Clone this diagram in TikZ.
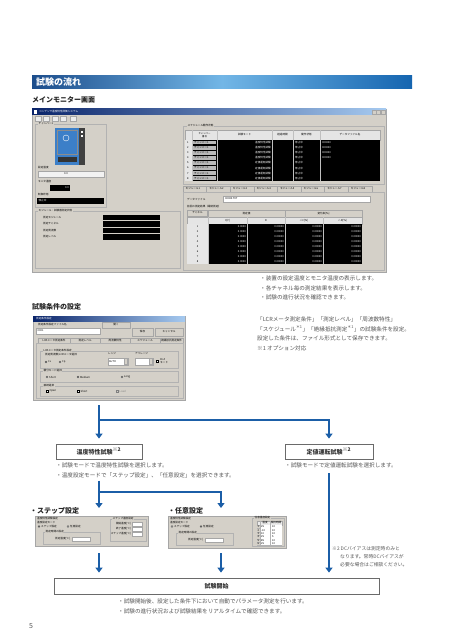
\documentclass[tikz,border=0pt]{standalone}
\usepackage{fontspec}
\newfontfamily\jp{Noto Sans CJK JP}
\usetikzlibrary{arrows.meta, positioning}
\definecolor{flowblue}{HTML}{1B5EA7}
\definecolor{txtgray}{HTML}{555555}
\definecolor{boxgray}{HTML}{6A6A6A}
\definecolor{wingray}{HTML}{D4D0C8}
\definecolor{titledark}{HTML}{0A246A}
\definecolor{titlelight}{HTML}{A6CAF0}
\definecolor{bardark}{HTML}{1C4D8C}
\definecolor{barmid}{HTML}{72B6E6}
\definecolor{barright}{HTML}{1565B0}
\definecolor{chblue}{HTML}{3C7FC8}
\definecolor{celllight}{HTML}{E6E6E6}

\begin{document}
\begin{tikzpicture}[x=1pt, y=-1pt,
    body/.style={font=\jp\fontsize{5.6}{9.6}\selectfont, text=txtgray,
                 anchor=north west, align=left, inner sep=0pt},
    head/.style={font=\jp\bfseries\fontsize{7}{8}\selectfont, text=black!85,
                 anchor=west, inner sep=0pt},
    testbox/.style={draw=boxgray, line width=0.8pt, fill=white, inner sep=0pt,
                    minimum height=15pt, text=black!80,
                    font=\jp\bfseries\fontsize{6}{7}\selectfont},
    arr/.style={-{Triangle[width=7pt, length=5pt]}, line width=2pt, flowblue},
    win/.style={fill=wingray, draw=gray!70, line width=0.4pt, inner sep=0pt,
                anchor=north west},
    tiny/.style={font=\jp\fontsize{2.6}{3}\selectfont, inner sep=0pt, anchor=west},
    grp/.style={tiny, fill=wingray, inner xsep=0.5pt},
    wline/.style={draw=gray!60, line width=0.3pt},
    btn/.style={fill=wingray, draw=gray!70, line width=0.3pt},
    btnnode/.style={tiny, btn, anchor=center},
    blk/.style={fill=black},
]
  \useasboundingbox (0,0) rectangle (455,644);
  \fill[white] (0,0) rectangle (455,644);

  % title bar of the page
  \shade[left color=bardark, right color=barright, middle color=barmid]
    (32,76) rectangle (412,89);
  \node[font=\jp\bfseries\fontsize{9}{10}\selectfont, text=white,
        anchor=west, inner sep=0pt] (pagetitle) at (36,82.5) {試験の流れ};

  \node[head] (mainhead) at (32,99.5) {メインモニター画面};

  % ---- main monitor window
  \node[win, minimum width=354pt, minimum height=163pt] (mainwin) at (32,109) {};
  \shade[left color=titledark, right color=titlelight] (32,109) rectangle (386,115);
  \fill[white] (33.5,110) rectangle (37,114);
  \node[tiny, text=white] (maintitle) at (39,112) {コンデンサ温度特性評価システム};
  \foreach \bx in {372,376.5,381}
    \draw[btn] (\bx,110.2) rectangle +(4,4);
  \foreach \tx in {35,43,52,60,70}
    \draw[btn, fill=gray!15] (\tx,116.5) rectangle +(6,5);

  % chamber group
  \draw[wline] (35,124) rectangle (106,207);
  \node[grp] (chlabel) at (38,124) {チャンバー1};
  \fill[chblue] (55,128) rectangle (79,165);
  \fill[black!75] (79,128) rectangle (85,165);
  \draw[black!45, line width=0.3pt] (57,130) rectangle (77,154);
  \draw[white, line width=0.4pt] (66,138) circle (3pt);
  \fill[black!80] (58,157) rectangle (77,162);
  \fill[white] (81,131) rectangle (83,133);
  \fill[white] (81,135) rectangle (83,137);
  \node[tiny] (lbset) at (38,168) {設定温度};
  \draw[btn, fill=gray!10] (38,171) rectangle (104,177);
  \node[tiny] (vset) at (64,174) {0.0};
  \node[tiny] (lbmon) at (38,182) {モニタ温度};
  \fill[blk] (50,185) rectangle (70,191);
  \node[tiny, text=white, anchor=east] (vmon) at (69,188) {0.0};
  \node[tiny] (lbctl) at (38,195) {制御状態};
  \fill[blk] (37,198) rectangle (104,204);
  \node[tiny, text=white] (vctl) at (38.5,201) {停止中};

  % module / meter group
  \draw[wline] (35,211) rectangle (180,268);
  \node[grp] (modlabel) at (38,211) {モジュール・試験器測定状態};
  \foreach \yy/\tl [count=\k] in {217.5/測定モジュール, 224/測定チャネル,
                                  230.5/測定周波数, 237/測定レベル} {
    \node[tiny] (mod\k) at (43,\yy) {\tl};
    \fill[blk] (103,\yy-2.7) rectangle (160,\yy+2.7);
  }

  % schedule group
  \draw[wline] (183,126) rectangle (384,184);
  \node[grp] (schlabel) at (187,126) {スケジュール動作状態};
  \draw[btn, fill=gray!20] (185,130) rectangle (380,140);
  \node[tiny, anchor=center, align=center, font=\jp\fontsize{2.4}{2.8}\selectfont]
    (hch) at (204.5,135) {チャンバー\\番号};
  \node[tiny, anchor=center] (hmode) at (244.5,135) {試験モード};
  \node[tiny, anchor=center] (htime) at (282.5,135) {経過時間};
  \node[tiny, anchor=center] (hstat) at (306.5,135) {動作状態};
  \node[tiny, anchor=center] (hfile) at (350,135) {データファイル名};
  \foreach \i in {1,...,8} {
    \pgfmathsetmacro\ya{140+5.1*(\i-1)}
    \pgfmathsetmacro\yb{\ya+5.1}
    \pgfmathsetmacro\ym{\ya+2.55}
    \fill[celllight] (185,\ya) rectangle (192,\yb);
    \fill[blk] (192,\ya) rectangle (380,\yb);
    \fill[gray!55] (193,\ya+0.6) rectangle (216,\yb-0.6);
    \node[tiny] (rn\i) at (187,\ym) {\i};
    \node[tiny] (rc\i) at (194,\ym) {チャンバー1};
    \node[tiny, text=white] (rs\i) at (295,\ym) {停止中};
  }
  \foreach \i in {1,...,4} {
    \pgfmathsetmacro\ym{142.55+5.1*(\i-1)}
    \node[tiny, text=white, anchor=east] (rm\i) at (271,\ym) {温度特性試験};
    \node[tiny, text=white] (rf\i) at (322,\ym) {000000};
  }
  \foreach \i in {5,...,8} {
    \pgfmathsetmacro\ym{142.55+5.1*(\i-1)}
    \node[tiny, text=white, anchor=east] (rm\i) at (271,\ym) {定値運転試験};
  }
  \foreach \cx in {192,217,272,293,320}
    \draw[gray!50, line width=0.2pt] (\cx,130) -- (\cx,180.8);

  % module tabs
  \foreach \i in {1,...,8} {
    \pgfmathsetmacro\tx{183+23.6*(\i-1)}
    \draw[btn] (\tx,186) rectangle +(23.6,6);
    \node[tiny] (tab\i) at (\tx+2.5,189) {モジュール\i};
  }
  \draw[wline] (183,192) rectangle (384,270);
  \node[tiny] (dflabel) at (187,199) {データファイル};
  \draw[btn, fill=white] (223,196) rectangle (370,202);
  \node[tiny] (dfname) at (225,199) {00000.TXT};
  \node[tiny] (lastlabel) at (187,207) {前回の測定結果（最終測定）};
  \node[btnnode, minimum width=20pt, minimum height=6pt] (chtab) at (197.5,213) {チャネル};
  \node[btnnode, minimum width=77pt, minimum height=7pt] (hval) at (246.5,213.5) {測定値};
  \node[btnnode, minimum width=77pt, minimum height=7pt] (hrate) at (323.5,213.5) {変化率[\%]};
  \draw[btn, fill=gray!20] (187,217) rectangle (362,224);
  \foreach \cx/\tl [count=\k] in {227.5/C[F], 266/D, 304/△C[\%], 342.5/△D[\%]}
    \node[tiny, anchor=center] (hc\k) at (\cx,220.5) {\tl};
  \foreach \i in {1,...,8} {
    \pgfmathsetmacro\ya{224+5*(\i-1)}
    \pgfmathsetmacro\ym{\ya+2.5}
    \fill[celllight] (187,\ya) rectangle (208,\ya+5);
    \fill[blk] (208,\ya) rectangle (362,\ya+5);
    \node[tiny, anchor=center] (cn\i) at (197.5,\ym) {\i};
    \node[tiny, text=white, anchor=east] (cv\i) at (246,\ym) {0.0000};
    \node[tiny, text=white, anchor=east] (cd\i) at (284,\ym) {0.00000};
    \node[tiny, text=white, anchor=east] (cr\i) at (322,\ym) {0.00000};
    \node[tiny, text=white, anchor=east] (cs\i) at (361,\ym) {0.00000};
  }
  \foreach \cx in {208,247,285,323}
    \draw[gray!50, line width=0.2pt] (\cx,217) -- (\cx,264);

  \node[body] (mainnote) at (260,275.5)
    {・装置の設定温度とモニタ温度の表示します。\\
     ・各チャネル毎の測定結果を表示します。\\
     ・試験の進行状況を確認できます。};

  \node[head] (sethead) at (32,307) {試験条件の設定};

  % ---- condition setting window
  \node[win, minimum width=152pt, minimum height=84pt] (setwin) at (33,316) {};
  \shade[left color=titledark, right color=titlelight] (33,316) rectangle (185,321);
  \node[tiny, text=white] (settitle) at (36,318.5) {測定条件設定};
  \node[tiny] (fnlabel) at (38,325) {測定条件設定ファイル名};
  \draw[btn, fill=white] (36,328) rectangle (100,334);
  \node[tiny] (fname) at (37.5,331) {0001};
  \node[btnnode, minimum width=28pt, minimum height=6pt] (bopen) at (116,325) {開く};
  \node[btnnode, minimum width=21pt, minimum height=8pt] (bsave) at (142.5,332) {保存};
  \node[btnnode, minimum width=28pt, minimum height=8pt] (bcancel) at (169,332) {キャンセル};
  \foreach \tx/\tw/\tl [count=\k] in {38/32/LCRメータ測定条件, 70/30/測定レベル,
                                      100/30/周波数特性, 130/30/スケジュール,
                                      160/23/絶縁抵抗測定条件}
    \node[btnnode, anchor=north west, minimum width=\tw pt, minimum height=5pt]
      (settab\k) at (\tx,338) {\tl};
  \draw[wline] (36,343) rectangle (183,398);
  \draw[wline] (40,351) rectangle (178,368);
  \node[grp] (grlcr) at (43,351) {LCRメータ測定条件設定};
  \node[tiny] (grfreq) at (45,355) {測定周波数/LCRメータ選択};
  \draw[fill=white, line width=0.2pt] (46,362) circle (1pt);
  \fill (46,362) circle (0.45pt);
  \node[tiny] (rcs) at (48,362) {Cs};
  \draw[fill=white, line width=0.2pt] (60,362) circle (1pt);
  \node[tiny] (rcp) at (62,362) {Cp};
  \node[tiny] (rng) at (108,354) {レンジ};
  \draw[btn, fill=white] (108,358) rectangle (128,365);
  \node[tiny] (rngval) at (109,361.5) {AUTO};
  \draw[btn] (124.5,358.5) rectangle (127.5,364.5);
  \node[tiny] (avg) at (135,354) {アベレージ};
  \draw[btn, fill=white] (135,358) rectangle (153,365);
  \draw[btn] (149.5,358.5) rectangle (152.5,364.5);
  \draw[fill=white, line width=0.2pt] (156,360) rectangle (158.5,362.5);
  \node[tiny] (hiz) at (160,359.5) {Hi-Z};
  \node[tiny] (hizm) at (160,363) {モード};
  \draw[wline] (40,371) rectangle (178,382);
  \node[grp] (grint) at (43,371) {積分モード選択};
  \foreach \rx/\tl [count=\k] in {47/Short, 78/Medium, 122/Long} {
    \draw[fill=white, line width=0.2pt] (\rx,377) circle (1pt);
    \node[tiny] (rint\k) at (\rx+2,377) {\tl};
  }
  \fill (78,377) circle (0.45pt);
  \draw[wline] (40,386) rectangle (178,396);
  \node[grp] (grcon) at (43,386) {接続選択};
  \foreach \rx/\tl [count=\k] in {47/Open, 78/Short} {
    \draw[fill=white, line width=0.2pt] (\rx-1.2,389.8) rectangle (\rx+1.2,392.2);
    \node[tiny] (rcon\k) at (\rx+2.5,391) {\tl};
  }
  \draw[gray, line width=0.2pt] (115.8,389.8) rectangle (118.2,392.2);
  \node[tiny, text=gray] (rcon3) at (119.5,391) {Load};

  \node[body] (setnote) at (257,316.5)
    {「LCRメータ測定条件」「測定レベル」「周波数特性」\\
     「スケジュール\textsuperscript{＊1}」「絶縁抵抗測定\textsuperscript{＊1}」の試験条件を設定。\\
     設定した条件は、ファイル形式として保存できます。\\
     ※1 オプション対応};

  % ---- test boxes
  \node[testbox, minimum width=86pt] (tempbox) at (99,451.5)
    {温度特性試験\textsuperscript{※2}};
  \node[testbox, minimum width=88pt] (constbox) at (329,451.5)
    {定値運転試験\textsuperscript{※2}};
  \node[body] (tempnote) at (56,462.5)
    {・試験モードで温度特性試験を選択します。\\
     ・温度設定モードで「ステップ設定」、「任意設定」を選択できます。};
  \node[body] (constnote) at (285,462.5) {・試験モードで定値運転試験を選択します。};

  % ---- step setting
  \node[head] (stephead) at (30,511) {・ステップ設定};
  \node[win, minimum width=113pt, minimum height=30pt] (stepwin) at (35,516) {};
  \node[tiny] (st1) at (37,519) {温度特性試験設定};
  \node[tiny] (st2) at (37,522.5) {温度設定モード};
  \draw[fill=white, line width=0.2pt] (39,526.5) circle (1pt);
  \fill (39,526.5) circle (0.45pt);
  \node[tiny] (st3) at (41,526.5) {ステップ設定};
  \draw[fill=white, line width=0.2pt] (68,526.5) circle (1pt);
  \node[tiny] (st4) at (70,526.5) {任意設定};
  \draw[wline] (43,532) rectangle (100,544);
  \node[grp] (st5) at (45,532) {測定時間の設定};
  \node[tiny] (st6) at (55,539) {測定温度[℃]};
  \draw[btn, fill=white] (72,537) rectangle (90,541);
  \draw[wline] (110,519) rectangle (146,541);
  \node[grp] (st7) at (112,519) {ステップ温度設定};
  \foreach \yy/\tl [count=\k] in {524/開始温度[℃], 529/終了温度[℃], 534/ステップ温度[℃]} {
    \node[tiny, anchor=east] (sr\k) at (131,\yy) {\tl};
    \draw[btn, fill=white] (132,\yy-2) rectangle (142,\yy+2);
  }

  % ---- free setting
  \node[head] (freehead) at (168,511) {・任意設定};
  \node[win, minimum width=118pt, minimum height=32pt] (freewin) at (168,516) {};
  \node[tiny] (fr1) at (170,519) {温度特性試験設定};
  \node[tiny] (fr2) at (170,522.5) {温度設定モード};
  \draw[fill=white, line width=0.2pt] (172,526.5) circle (1pt);
  \node[tiny] (fr3) at (174,526.5) {ステップ設定};
  \draw[fill=white, line width=0.2pt] (201,526.5) circle (1pt);
  \fill (201,526.5) circle (0.45pt);
  \node[tiny] (fr4) at (203,526.5) {任意設定};
  \draw[wline] (176,533) rectangle (233,545);
  \node[grp] (fr5) at (178,533) {測定時間の設定};
  \node[tiny] (fr6) at (188,540) {測定温度[℃]};
  \draw[btn, fill=white] (205,538) rectangle (223,542);
  \draw[wline] (252,518) rectangle (284,546);
  \node[grp] (fr7) at (254,518) {任意温度設定};
  \draw[btn, fill=gray!15] (257,521) rectangle (282,525);
  \node[tiny, anchor=center] (fr8) at (265,523) {温度};
  \node[tiny, anchor=center] (fr9) at (276,523) {保持時間};
  \foreach \tv/\hv [count=\k] in {25/10, -10/10, 10/10, 25/5, 85/10, 25/10} {
    \pgfmathsetmacro\ya{525+3.4*(\k-1)}
    \fill[white] (260,\ya) rectangle (282,\ya+3.4);
    \draw[gray!60, line width=0.2pt] (257,\ya+3.4) -- (282,\ya+3.4);
    \node[tiny] (fn\k) at (257.5,\ya+1.7) {\k};
    \node[tiny] (ft\k) at (261,\ya+1.7) {\tv};
    \node[tiny] (fh\k) at (272,\ya+1.7) {\hv};
  }
  \draw[gray!60, line width=0.2pt] (260,521) -- (260,545.4);
  \draw[gray!60, line width=0.2pt] (270,521) -- (270,545.4);

  \node[body, font=\jp\fontsize{4.8}{8}\selectfont] (dcnote) at (332,546)
    {※2 DCバイアスは測定時のみと\\
     \hspace*{8pt}なります。常時DCバイアスが\\
     \hspace*{8pt}必要な場合はご相談ください。};

  % ---- start
  \node[testbox, minimum width=325pt, minimum height=16pt] (startbox) at (216.5,586)
    {試験開始};
  \node[body] (startnote) at (118,598.5)
    {・試験開始後、設定した条件下において自動でパラメータ測定を行います。\\
     ・試験の進行状況および試験結果をリアルタイムで確認できます。};

  \node[font=\jp\fontsize{7}{8}\selectfont, text=txtgray, inner sep=0pt] (pageno)
    at (31,626) {5};

  % ---- flow arrows
  \coordinate (fork1) at (99,420);
  \coordinate (fork2) at (99,492);
  \coordinate (tip2a) at (99,508);
  \coordinate (tip2b) at (221,508);

  \draw[arr] ([yshift=-5pt]setwin.south -| tempbox) -- ([yshift=5pt]tempbox.north);
  \draw[arr] (fork1) -| ([yshift=5pt]constbox.north);
  \draw[arr] ([yshift=-3pt]tempnote.south -| tempbox) -- (tip2a);
  \draw[arr] (fork2) -| (tip2b);
  \draw[arr] ([yshift=-5pt]constnote.south -| constbox)
    -- ([yshift=5pt]startbox.north -| constbox);
  \draw[arr] ([yshift=-7pt]stepwin.south -| tip2a)
    -- ([yshift=5pt]startbox.north -| tip2a);
  \draw[arr] ([yshift=-5pt]freewin.south -| tip2b)
    -- ([yshift=5pt]startbox.north -| tip2b);

\end{tikzpicture}
\end{document}
